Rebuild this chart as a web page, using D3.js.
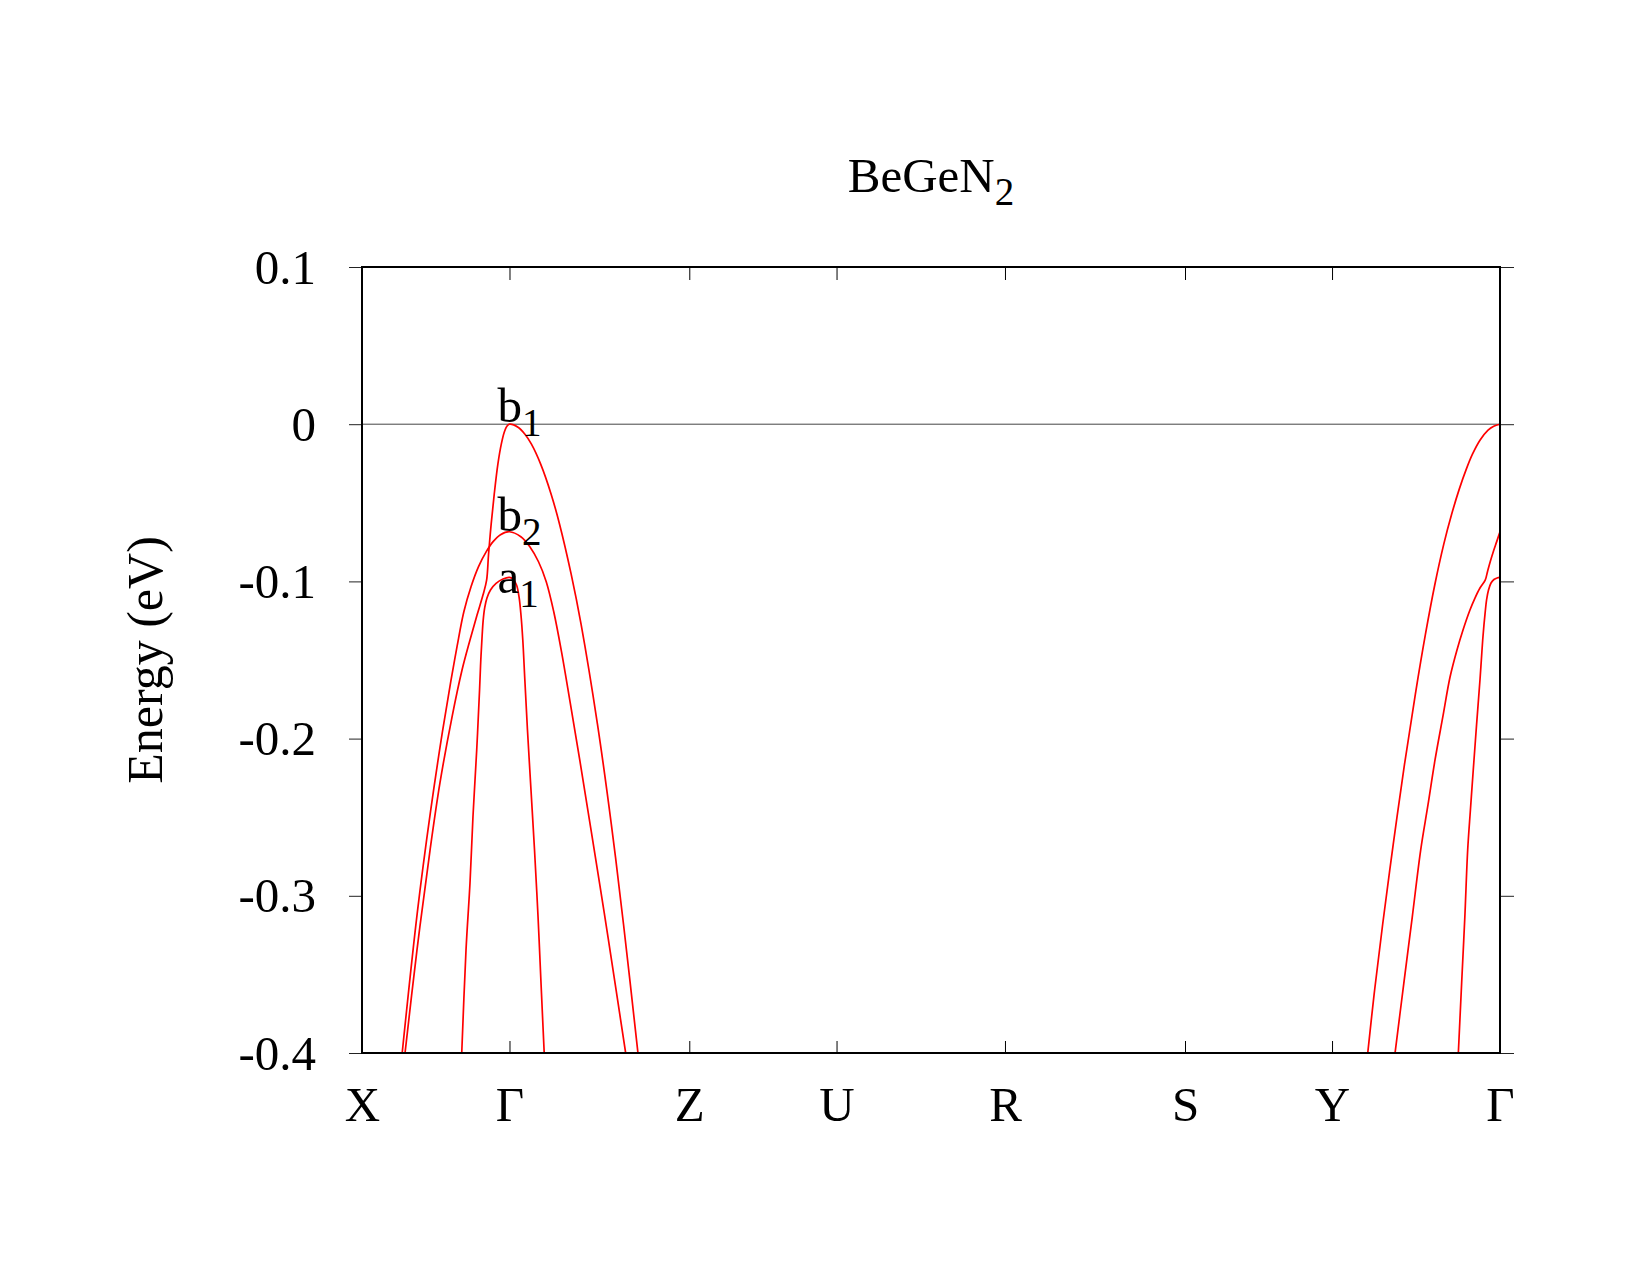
<!DOCTYPE html>
<html>
<head>
<meta charset="utf-8">
<script src="https://d3js.org/d3.v7.min.js"></script>
<style>
  body { margin: 0; background: #fff; }
  svg { display: block; font-family: "Liberation Serif", "Times New Roman", serif; }
</style>
</head>
<body>
<div id="chart"></div>
<script>
// k-path labels and their positions along the path (fraction of total length)
let kLabels = ["X", "Γ", "Z", "U", "R", "S", "Y", "Γ"];
let kTicks = [0, 0.1296, 0.2876, 0.4170, 0.5650, 0.7232, 0.8524, 1.0];
let yTicks = [0.1, 0, -0.1, -0.2, -0.3, -0.4];

// bands near the first Gamma point, [k, E(eV)]
let b1Gamma = [[0.0371,-0.4045],[0.0483,-0.3345],[0.0598,-0.2709],[0.0685,-0.2282],[0.0791,-0.1863],
    [0.0879,-0.1564],[0.0949,-0.1373],[0.1011,-0.1214],[0.1063,-0.1087],[0.1095,-0.0992],[0.1112,-0.0827],
    [0.1135,-0.0636],[0.1162,-0.0445],[0.1194,-0.0254],[0.1224,-0.0127],[0.1250,-0.0051],[0.1273,-0.0013],
    [0.1296,0],[0.1371,-0.0019],[0.1432,-0.0064],[0.1489,-0.0127],[0.1570,-0.0254],[0.1662,-0.0445],
    [0.1736,-0.0636],[0.1838,-0.0954],[0.1925,-0.1272],[0.2069,-0.1908],[0.2191,-0.2545],[0.2298,-0.3181],
    [0.2432,-0.4046]];
let b2Gamma = [[0.0347,-0.4043],[0.0487,-0.3101],[0.0602,-0.2465],[0.0707,-0.1956],[0.0780,-0.1638],
    [0.0835,-0.1415],[0.0895,-0.1193],[0.0958,-0.1034],[0.1024,-0.0906],[0.1092,-0.0811],[0.1152,-0.0747],
    [0.1217,-0.0703],[0.1296,-0.0684],[0.1396,-0.0716],[0.1475,-0.0779],[0.1551,-0.0875],[0.1619,-0.1002],
    [0.1685,-0.1193],[0.1753,-0.1447],[0.1828,-0.1765],[0.1916,-0.2147],[0.2015,-0.2592],[0.2127,-0.3101],
    [0.2235,-0.3610],[0.2326,-0.4043]];
let a1Gamma = [[0.0874,-0.4045],[0.0914,-0.3345],[0.0949,-0.2919],[0.0975,-0.2499],[0.1008,-0.2073],
    [0.1033,-0.1691],[0.1044,-0.1500],[0.1056,-0.1341],[0.1065,-0.1246],[0.1078,-0.1169],[0.1098,-0.1106],
    [0.1129,-0.1055],[0.1178,-0.1013],[0.1239,-0.0985],[0.1296,-0.0975],[0.1327,-0.0985],[0.1358,-0.1023],
    [0.1380,-0.1099],[0.1397,-0.1214],[0.1413,-0.1373],[0.1431,-0.1627],[0.1454,-0.1945],[0.1485,-0.2327],
    [0.1516,-0.2709],[0.1547,-0.3135],[0.1573,-0.3555],[0.1604,-0.4045]];

// bands on the Y -> Gamma segment
let b1YG = [[0.8831,-0.4046],[0.8894,-0.3626],[0.8969,-0.3181],[0.9062,-0.2672],[0.9161,-0.2163],
    [0.9256,-0.1718],[0.9345,-0.1336],[0.9428,-0.1018],[0.9506,-0.0763],[0.9575,-0.0573],[0.9642,-0.0413],
    [0.9704,-0.0286],[0.9758,-0.0191],[0.9824,-0.0102],[0.9895,-0.0038],[0.9945,-0.0013],[1.0,0]];
let b2YG = [[0.9070,-0.4045],[0.9155,-0.3555],[0.9229,-0.3135],[0.9303,-0.2709],[0.9367,-0.2422],
    [0.9429,-0.2136],[0.9499,-0.1856],[0.9561,-0.1608],[0.9622,-0.1436],[0.9675,-0.1309],[0.9736,-0.1182],
    [0.9780,-0.1106],[0.9824,-0.1042],[0.9870,-0.0992],[0.9890,-0.0938],[0.9914,-0.0875],[0.9941,-0.0811],
    [0.9971,-0.0747],[1.0,-0.0684]];
let a1YG = [[0.9631,-0.4045],[0.9663,-0.3555],[0.9691,-0.3135],[0.9716,-0.2709],[0.9740,-0.2454],
    [0.9765,-0.2200],[0.9794,-0.1913],[0.9824,-0.1627],[0.9836,-0.1500],[0.9848,-0.1373],[0.9859,-0.1277],
    [0.9870,-0.1195],[0.9882,-0.1118],[0.9899,-0.1055],[0.9921,-0.1010],[0.9947,-0.0988],[0.9974,-0.0978],
    [1.0,-0.0975]];

let bands = [b1Gamma, b2Gamma, a1Gamma, b1YG, b2YG, a1YG];

// state labels at the Gamma point
let labelNames = [["b", "1"], ["b", "2"], ["a", "1"]];
let labelE = [0.0013, -0.0680, -0.1075];

let margin = {top: 267, right: 150, bottom: 222, left: 362},
    width = 1650 - margin.left - margin.right,
    height = 1275 - margin.top - margin.bottom;

let svg = d3.select("#chart").append("svg")
    .attr("width", 1650)
    .attr("height", 1275)
  .append("g")
    .attr("transform", "translate(" + margin.left + "," + margin.top + ")");

let xScale = d3.scaleLinear().domain([0, 1]).range([0, width]);
let yScale = d3.scaleLinear().domain([-0.4, 0.1]).range([height, 0]);

svg.append("clipPath").attr("id", "clip")
  .append("rect").attr("width", width).attr("height", height);

// zero line
svg.append("line")
    .attr("x1", 0).attr("x2", width)
    .attr("y1", yScale(0)).attr("y2", yScale(0))
    .attr("stroke", "#444").attr("stroke-width", 1);

// y axes: ticks outward
let yLeft = svg.append("g")
    .call(d3.axisLeft(yScale).tickValues(yTicks).tickSize(13).tickSizeOuter(0).tickPadding(33)
        .tickFormat(d => String(d)))
    .attr("font-family", null).attr("font-size", 49);
yLeft.select(".domain").remove();
yLeft.selectAll("line").attr("stroke", "#222");
yLeft.selectAll("text").attr("fill", "#000").attr("dy", "0.33em");

let yRight = svg.append("g")
    .attr("transform", "translate(" + width + ",0)")
    .call(d3.axisRight(yScale).tickValues(yTicks).tickSize(14).tickSizeOuter(0).tickFormat(""));
yRight.select(".domain").remove();
yRight.selectAll("line").attr("stroke", "#222");

// x axes: ticks inward
let xBottom = svg.append("g")
    .attr("transform", "translate(0," + height + ")")
    .call(d3.axisBottom(xScale).tickValues(kTicks).tickSize(-12).tickSizeOuter(0)
        .tickFormat((d, i) => kLabels[i]))
    .attr("font-family", null).attr("font-size", 49);
xBottom.select(".domain").remove();
xBottom.selectAll("line").attr("stroke", "#000");
xBottom.selectAll("text").attr("fill", "#000").attr("y", 68).attr("dy", null);

let xTop = svg.append("g")
    .call(d3.axisTop(xScale).tickValues(kTicks).tickSize(-13).tickSizeOuter(0).tickFormat(""));
xTop.select(".domain").remove();
xTop.selectAll("line").attr("stroke", "#000");

// bands
let line = d3.line()
    .x(d => xScale(d[0]))
    .y(d => yScale(d[1]))
    .curve(d3.curveCatmullRom.alpha(0.5));

svg.append("g").attr("clip-path", "url(#clip)")
  .selectAll("path")
  .data(bands)
  .enter().append("path")
    .attr("d", line)
    .attr("fill", "none")
    .attr("stroke", "#ff0000")
    .attr("stroke-width", 1.7);

// frame
svg.append("rect")
    .attr("width", width).attr("height", height)
    .attr("fill", "none").attr("stroke", "#000").attr("stroke-width", 2);

// labels b1, b2, a1
labelNames.forEach((n, i) => {
    let t = svg.append("text")
        .attr("x", xScale(kTicks[1]) - 12)
        .attr("y", yScale(labelE[i]))
        .attr("font-size", 49);
    t.append("tspan").text(n[0]);
    t.append("tspan").attr("font-size", 39).attr("dy", 14).text(n[1]);
});

// title
let title = svg.append("text")
    .attr("x", width / 2)
    .attr("y", 192 - margin.top)
    .attr("text-anchor", "middle")
    .attr("font-size", 49);
title.append("tspan").text("BeGeN");
title.append("tspan").attr("font-size", 39).attr("dy", 13).text("2");

// y label
svg.append("text")
    .attr("transform", "translate(" + (162 - margin.left) + "," + (height / 2) + ") rotate(-90)")
    .attr("text-anchor", "middle")
    .attr("font-size", 50)
    .text("Energy (eV)");
</script>
</body>
</html>
